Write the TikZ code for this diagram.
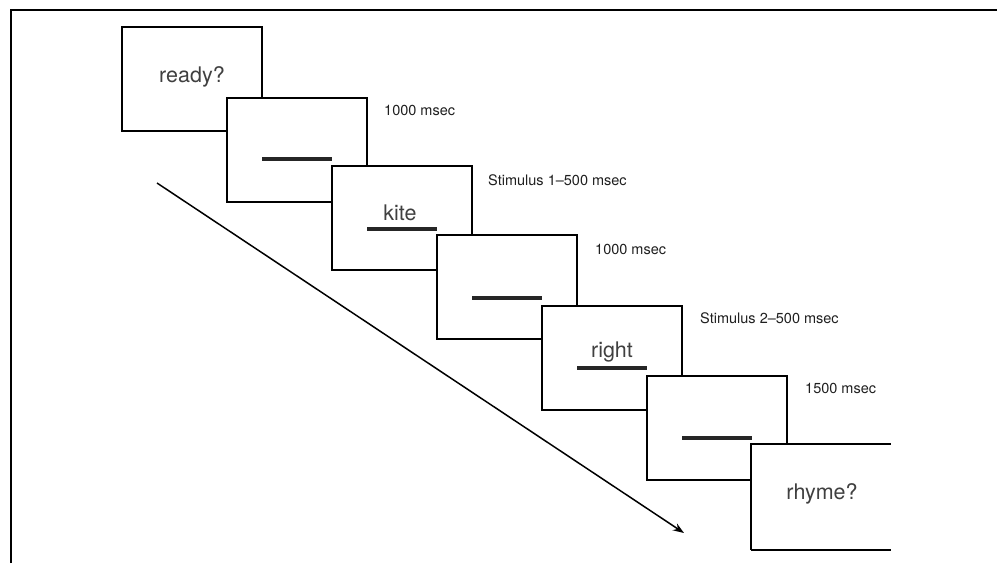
\documentclass[tikz,border=0pt]{standalone}
\usepackage{fontspec}
\setmainfont{TeX Gyre Heros}
\usetikzlibrary{arrows.meta}
\tikzset{
  screen/.style={draw, fill=white, line width=1.9pt, minimum width=140pt, minimum height=104pt, inner sep=0pt},
  word/.style={font=\fontsize{21.5}{24}\selectfont, text=black!75, inner sep=0pt},
  cue/.style={font=\fontsize{14.5}{16}\selectfont, text=black!88, anchor=west, inner sep=0pt},
  bar/.style={fill=black!85, minimum width=70pt, minimum height=3.4pt, inner sep=0pt},
  flow/.style={-{Stealth[length=11pt, width=8pt]}, line width=1.5pt},
}

\begin{document}
\begin{tikzpicture}[x=1pt, y=-1pt]
    \useasboundingbox (0,0) rectangle (997,563);
    \draw[line width=2.6pt] (11,563) -- (11,10) -- (997,10);
    % time arrow behind the screens
    \coordinate (tstart) at (157,183);
    \coordinate (tend) at (684,533);
    \draw[flow] (tstart) -- (tend);
    % screens
    \node[screen] (ready) at (192,79) {};
    \node[screen] (blank1) at (297,150) {};
    \node[screen] (stim1) at (402,218) {};
    \node[screen] (blank2) at (507,287) {};
    \node[screen] (stim2) at (612,358) {};
    \node[screen] (blank3) at (717,428) {};
    \node[screen, draw=none, minimum width=138pt] (rhyme) at (821,497) {};
    \draw[line width=1.9pt] (rhyme.north east) -- (rhyme.north west) -- (rhyme.south west);
    \draw[line width=2.6pt] (rhyme.south west) -- (rhyme.south east);
    % screen contents
    \node[word] (wready) at (192,77) {ready?};
    \node[bar] (bar1) at (297,159) {};
    \node[bar] (bar2) at (402,229) {};
    \node[word, anchor=base] (wkite) at (400,220) {kite};
    \node[bar] (bar3) at (507,298) {};
    \node[bar] (bar4) at (612,368) {};
    \node[word, anchor=base] (wright) at (612,357) {right};
    \node[bar] (bar5) at (717,438) {};
    \node[word] (wrhyme) at (822,494) {rhyme?};
    % durations
    \node[cue] (d1) at (384,110) {1000 msec};
    \node[cue] (d2) at (488,180) {Stimulus 1--500 msec};
    \node[cue] (d3) at (595,249) {1000 msec};
    \node[cue] (d4) at (700,318) {Stimulus 2--500 msec};
    \node[cue] (d5) at (805,388) {1500 msec};
  \end{tikzpicture}
\end{document}
